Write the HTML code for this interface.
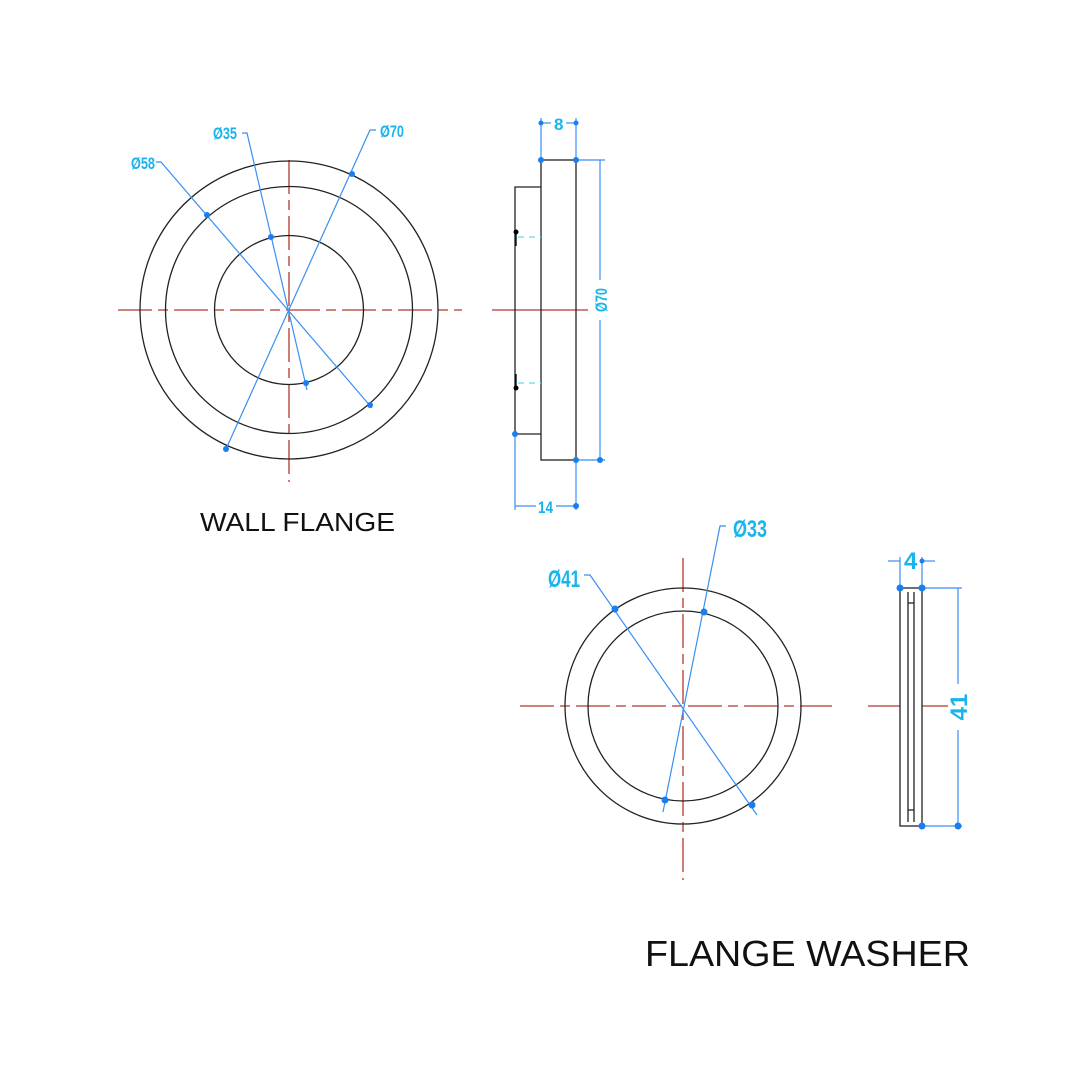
<!DOCTYPE html>
<html><head><meta charset="utf-8"><style>
html,body{margin:0;padding:0;background:#fff;}
svg{display:block}
</style></head><body>
<svg width="1080" height="1080" viewBox="0 0 1080 1080" xmlns="http://www.w3.org/2000/svg">
<rect width="1080" height="1080" fill="#fff"/>
<g stroke="#b03a2e" stroke-width="1.3" fill="none" stroke-dasharray="34,6,10,6">
<line x1="289" y1="160" x2="289" y2="482"/>
<line x1="118" y1="310" x2="462" y2="310"/>
<line x1="683" y1="558" x2="683" y2="880"/>
<line x1="520" y1="706" x2="832" y2="706"/>
</g>
<g stroke="#b03a2e" stroke-width="1.3">
<line x1="492" y1="310" x2="588" y2="310"/>
<line x1="868" y1="706" x2="948" y2="706"/>
</g>
<g stroke="#222" stroke-width="1.3" fill="none">
<circle cx="289" cy="310" r="149"/>
<circle cx="289" cy="310" r="123.5"/>
<circle cx="289" cy="310" r="74.5"/>
<circle cx="683" cy="706" r="118"/>
<circle cx="683" cy="706" r="95"/>
<rect x="541" y="160" width="35" height="300"/>
<polyline points="541,187 515,187 515,434 541,434"/>
<rect x="900" y="588" width="22" height="238" fill="#fff"/>
<line x1="908" y1="592" x2="908" y2="822"/>
<line x1="914" y1="592" x2="914" y2="822"/>
<line x1="908" y1="603" x2="914" y2="603"/>
<line x1="908" y1="810" x2="914" y2="810"/>
</g>
<g stroke="#000" stroke-width="1.3"><line x1="516" y1="232" x2="516" y2="246"/><line x1="516" y1="374" x2="516" y2="388"/></g>
<g fill="#000"><circle cx="516" cy="232" r="2.5"/><circle cx="516" cy="388" r="2.5"/></g>
<g stroke="#5fe0e8" stroke-width="1.3" stroke-dasharray="6,5"><line x1="518" y1="237" x2="541" y2="237"/><line x1="518" y1="383" x2="541" y2="383"/></g>
<g stroke="#3a8ff0" stroke-width="1.2" fill="none">
<polyline points="226,449 370,130 376,130"/>
<polyline points="372,408 161,162 156,162"/>
<polyline points="307,390 247,133 242,133"/>
<polyline points="757,815 590,575 584,575"/>
<polyline points="663,812 720,526 726,526"/>
<line x1="541" y1="160" x2="541" y2="118"/><line x1="576" y1="160" x2="576" y2="118"/>
<line x1="541" y1="123" x2="551" y2="123"/><line x1="566" y1="123" x2="576" y2="123"/>
<line x1="576" y1="160" x2="605" y2="160"/><line x1="576" y1="460" x2="605" y2="460"/>
<line x1="600" y1="160" x2="600" y2="280"/><line x1="600" y1="320" x2="600" y2="460"/>
<line x1="515" y1="434" x2="515" y2="510"/><line x1="576" y1="460" x2="576" y2="510"/>
<line x1="515" y1="506" x2="536" y2="506"/><line x1="556" y1="506" x2="576" y2="506"/>
<line x1="900" y1="588" x2="900" y2="557"/><line x1="922" y1="588" x2="922" y2="557"/>
<line x1="888" y1="561" x2="900" y2="561"/><line x1="922" y1="561" x2="935" y2="561"/>
<line x1="922" y1="588" x2="962" y2="588"/><line x1="922" y1="826" x2="962" y2="826"/>
<line x1="958" y1="588" x2="958" y2="684"/><line x1="958" y1="730" x2="958" y2="826"/>
</g>
<g fill="#1a7ef0">
<circle cx="352" cy="174" r="3"/><circle cx="226" cy="449" r="3"/>
<circle cx="207" cy="215" r="3"/><circle cx="370" cy="405" r="3"/>
<circle cx="271" cy="237" r="3"/><circle cx="306" cy="383" r="3"/>
<circle cx="615" cy="609" r="3.5"/><circle cx="752" cy="805" r="3.5"/>
<circle cx="704" cy="612" r="3.5"/><circle cx="665" cy="800" r="3.5"/>
<circle cx="541" cy="123" r="2.5"/><circle cx="576" cy="123" r="2.5"/>
<circle cx="541" cy="160" r="3"/><circle cx="576" cy="160" r="3"/>
<circle cx="576" cy="460" r="3"/><circle cx="600" cy="460" r="3"/>
<circle cx="515" cy="434" r="3"/><circle cx="576" cy="506" r="3"/>
<circle cx="900" cy="588" r="3.5"/><circle cx="922" cy="588" r="3.5"/>
<circle cx="922" cy="826" r="3.5"/><circle cx="958" cy="826" r="3.5"/>
<circle cx="922" cy="561" r="2.5"/>
</g>
<g fill="#18b4ee" font-family="Liberation Sans, sans-serif" font-weight="bold">
<text x="380" y="137" font-size="17" textLength="24" lengthAdjust="spacingAndGlyphs">Ø70</text>
<text x="131" y="169" font-size="17" textLength="24" lengthAdjust="spacingAndGlyphs">Ø58</text>
<text x="213" y="139" font-size="17" textLength="24" lengthAdjust="spacingAndGlyphs">Ø35</text>
<text x="554" y="130" font-size="17">8</text>
<text x="538" y="513" font-size="17" textLength="15" lengthAdjust="spacingAndGlyphs">14</text>
<text x="0" y="0" font-size="17" transform="translate(607,300) rotate(-90)" text-anchor="middle" textLength="24" lengthAdjust="spacingAndGlyphs">Ø70</text>
<text x="548" y="587" font-size="24" textLength="32" lengthAdjust="spacingAndGlyphs">Ø41</text>
<text x="733" y="537" font-size="24" textLength="34" lengthAdjust="spacingAndGlyphs">Ø33</text>
<text x="904" y="569" font-size="24">4</text>
<text x="0" y="0" font-size="24" transform="translate(967,707) rotate(-90)" text-anchor="middle">41</text>
</g>
<g fill="#111" font-family="Liberation Sans, sans-serif">
<text x="200" y="531" font-size="26" textLength="195" lengthAdjust="spacingAndGlyphs">WALL FLANGE</text>
<text x="645" y="966" font-size="36" textLength="325" lengthAdjust="spacingAndGlyphs">FLANGE WASHER</text>
</g>
</svg>
</body></html>
